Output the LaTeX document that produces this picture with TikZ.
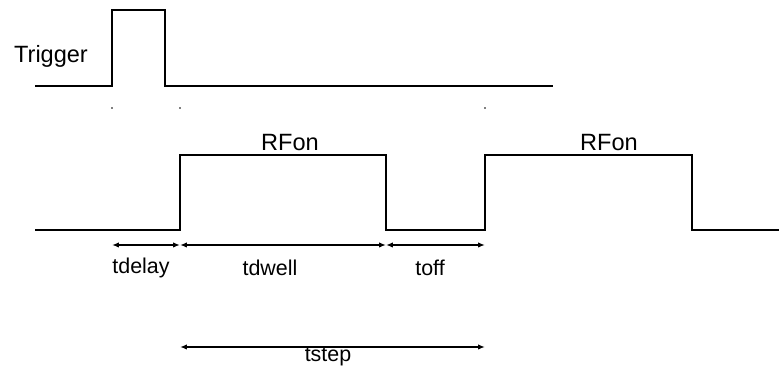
\documentclass[tikz,border=0pt]{standalone}
\usepackage{fontspec}
\setmainfont{Liberation Sans}
\usetikzlibrary{positioning, calc, arrows.meta}

\begin{document}
\begin{tikzpicture}[x=0.02cm, y=-0.02cm, line width=1.1pt,
        lbl/.style={font=\fontsize{12.2}{14}\selectfont, inner sep=0pt},
        big/.style={font=\fontsize{13.4}{16}\selectfont, inner sep=0pt},
        span/.style={{Latex[length=1.4mm,width=1.1mm]}-{Latex[length=1.4mm,width=1.1mm]}, line width=0.9pt},
        tick/.style={fill=gray, draw=none}]
        \useasboundingbox (0,0) rectangle (779,367);

        %coordinates
        \coordinate (delay) at (112,245);
        \coordinate (on1)   at (180,245);
        \coordinate (off1)  at (386,245);
        \coordinate (on2)   at (485,245);
        \coordinate (stepA) at (180,347);
        \coordinate (stepB) at (485,347);

        %waveforms
        \draw (35,86) -- (112,86) -- (112,10) -- (165,10) -- (165,86) -- (553,86);
        \draw (35,230) -- (180,230) -- (180,155) -- (386,155) -- (386,230)
              -- (485,230) -- (485,155) -- (692,155) -- (692,230) -- (779,230);

        %marks
        \foreach \x in {112,180,485}
            \fill[tick] (\x-0.8,107.2) rectangle (\x+0.8,108.8);

        %nodes
        \node[big] (trig) at (51,56) {Trigger};
        \node[big] (rf1) at (290,143) {RFon};
        \node[big] (rf2) at (609,143) {RFon};

        \node[lbl] (tdelay) at (141,268) {tdelay};
        \node[lbl] (tdwell) at (270,268) {tdwell};
        \node[lbl] (toff)   at (430,268) {toff};
        \node[lbl] (tstep)  at (328,357) {tstep};

        %edges
        \draw[span] (delay) -- (on1);
        \draw[span] (on1) -- (off1);
        \draw[span] (off1) -- (on2);
        \draw[span] (stepA) -- (stepB);
\end{tikzpicture}
\end{document}
